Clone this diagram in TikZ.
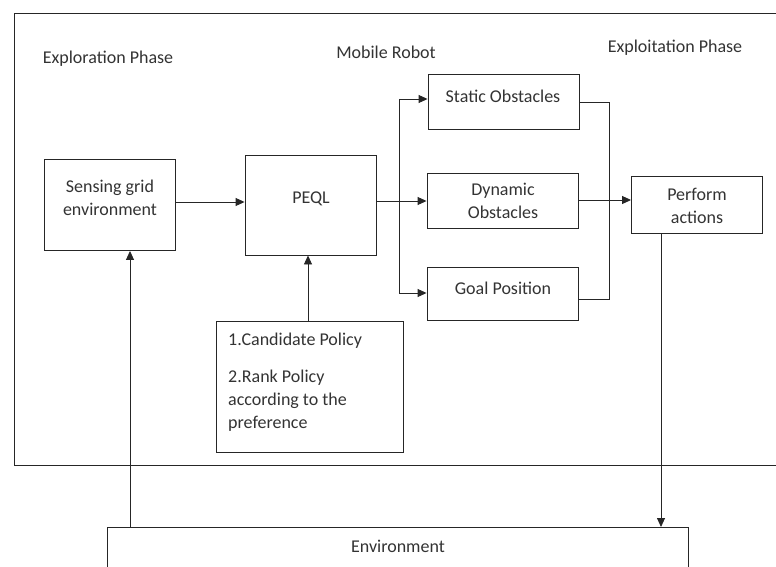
\documentclass[tikz,border=0pt]{standalone}
\usepackage{fontspec}
\setmainfont{Carlito}
\usetikzlibrary{arrows.meta}
\begin{document}
\begin{tikzpicture}[x=1pt,y=-1pt,
  box/.style={draw=black!85,line width=0.9pt,rectangle,inner sep=0pt},
  txt/.style={text=black!80,font=\fontsize{18}{23}\selectfont,inner sep=0pt},
  conn/.style={draw=black!85,line width=0.9pt},
  arr/.style={conn,-{Triangle[length=9pt,width=8pt]}}]
\useasboundingbox (0,0) rectangle (776,567);
% outer frame
\draw[conn] (780,13) -- (14,13) -- (14,465) -- (780,465);
% boxes
\node[box,minimum width=131pt,minimum height=91pt] (sense) at (110,205) {};
\node[box,minimum width=131pt,minimum height=100pt] (peql) at (310.5,205) {};
\node[box,minimum width=151pt,minimum height=55pt] (static) at (503.5,101.5) {};
\node[box,minimum width=151pt,minimum height=55pt] (dyn) at (502.5,200.5) {};
\node[box,minimum width=151pt,minimum height=53pt] (goal) at (502.5,293.5) {};
\node[box,minimum width=131pt,minimum height=57pt] (perf) at (697,204.5) {};
\node[box,minimum width=187pt,minimum height=131pt] (cand) at (309.5,386.5) {};
\draw[conn] (107,570) -- (107,527) coordinate (envtl) -- (688,527) -- (688,570);
\coordinate (envL) at (130,527);
\coordinate (envR) at (661,527);
% texts
\node[txt] (t1) at (108,59) {Exploration Phase};
\node[txt] (t2) at (386,52) {Mobile Robot};
\node[txt] (t3) at (675,48) {Exploitation Phase};
\node[txt,align=center] (ts) at (110,198) {Sensing grid\\environment};
\node[txt] (tp) at (311,199) {PEQL};
\node[txt] (tst) at (503,96) {Static Obstacles};
\node[txt,align=center] (td) at (503,201) {Dynamic\\Obstacles};
\node[txt] (tg) at (503,288) {Goal Position};
\node[txt,align=center] (tpf) at (697,205.5) {Perform\\actions};
\node[txt,anchor=north west,align=left] (tc) at (228,333) {1.Candidate Policy\\[14pt]2.Rank Policy\\according to the\\preference};
\node[txt] (te) at (398,546) {Environment};
% connectors
\draw[arr] (sense.east |- 0,202) -- (peql.west |- 0,202);
\coordinate (br) at (399,201);
\draw[conn] (peql.east |- br) -- (br);
\draw[conn] (399,99) -- (399,293);
\draw[arr] (399,99) -- (static.west |- 0,99);
\draw[arr] (br) -- (dyn.west |- br);
\draw[arr] (399,293) -- (goal.west |- 0,293);
\draw[conn] (static.east |- 0,102) -- (609,102) -- (609,299) -- (goal.east |- 0,299);
\draw[arr] (dyn.east |- 0,200) -- (perf.west |- 0,200);
\draw[arr] (cand.north -| 308,0) -- (peql.south -| 308,0);
\draw[arr] (envL) -- (sense.south -| envL);
\draw[arr] (perf.south -| envR) -- (envR);
\end{tikzpicture}
\end{document}
